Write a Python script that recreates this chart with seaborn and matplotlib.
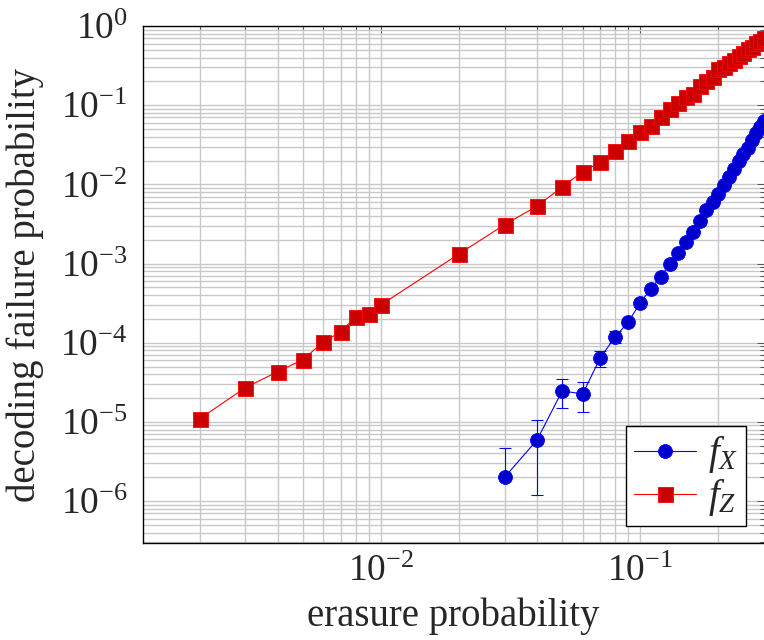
import matplotlib
matplotlib.use("Agg")
import matplotlib.pyplot as plt
import matplotlib.ticker as mticker
import numpy as np
import pandas as pd
import seaborn as sns

# erasure probabilities
p_x = [0.03, 0.04, 0.05, 0.06, 0.07, 0.08, 0.09, 0.10, 0.11, 0.12, 0.13, 0.14,
       0.15, 0.16, 0.17, 0.18, 0.19, 0.20, 0.21, 0.22, 0.23, 0.24, 0.25, 0.26,
       0.27, 0.28, 0.29, 0.30]
f_x = [2.0e-6, 5.9e-6, 2.46e-5, 2.25e-5, 6.4e-5, 1.18e-4, 1.83e-4, 3.2e-4,
       4.8e-4, 6.8e-4, 1.0e-3, 1.36e-3, 1.88e-3, 2.5e-3, 3.4e-3, 4.8e-3,
       5.9e-3, 7.6e-3, 9.8e-3, 1.24e-2, 1.56e-2, 2.0e-2, 2.4e-2, 2.9e-2,
       3.6e-2, 4.5e-2, 5.3e-2, 6.3e-2]

# confidence bounds for the sparsely sampled X failures
err_p = [0.03, 0.04, 0.05, 0.06, 0.07, 0.08]
err_lo = [2.0e-6, 1.2e-6, 1.5e-5, 1.34e-5, 4.9e-5, 1.0e-4]
err_hi = [4.7e-6, 1.06e-5, 3.5e-5, 3.2e-5, 7.9e-5, 1.4e-4]
err_mid = [2.0e-6, 5.9e-6, 2.46e-5, 2.25e-5, 6.4e-5, 1.18e-4]

p_z = [0.002, 0.003, 0.004, 0.005, 0.006, 0.007, 0.008, 0.009, 0.010,
       0.02, 0.03, 0.04, 0.05, 0.06, 0.07, 0.08, 0.09, 0.10, 0.11, 0.12,
       0.13, 0.14, 0.15, 0.16, 0.17, 0.18, 0.19, 0.20, 0.21, 0.22, 0.23,
       0.24, 0.25, 0.26, 0.27, 0.28, 0.29, 0.30]
f_z = [1.09e-5, 2.7e-5, 4.3e-5, 6.1e-5, 1.02e-4, 1.37e-4, 2.13e-4, 2.3e-4,
       3.0e-4, 1.32e-3, 3.1e-3, 5.3e-3, 9.3e-3, 1.44e-2, 1.9e-2, 2.6e-2,
       3.5e-2, 4.59e-2, 5.46e-2, 7.1e-2, 8.95e-2, 0.107, 0.127, 0.138,
       0.175, 0.202, 0.227, 0.286, 0.30, 0.34, 0.372, 0.418, 0.456, 0.51,
       0.54, 0.61, 0.65, 0.70]

x_major = [1e-2, 1e-1]
y_major = [1e-6, 1e-5, 1e-4, 1e-3, 1e-2, 1e-1, 1e0]

sns.set_theme(style="white")
plt.rcParams["font.family"] = ["Liberation Serif", "DejaVu Serif"]
plt.rcParams["mathtext.fontset"] = "custom"
plt.rcParams["mathtext.rm"] = "Liberation Serif"
plt.rcParams["mathtext.it"] = "Liberation Serif:italic"
plt.rcParams["mathtext.bf"] = "Liberation Serif:bold"

fig = plt.figure(figsize=(7.64, 6.4), dpi=100)
ax = fig.add_axes([143 / 764, 97 / 640, 621 / 764, 517 / 640])

df_x = pd.DataFrame({"p": p_x, "f": f_x})
df_z = pd.DataFrame({"p": p_z, "f": f_z})

ax.errorbar(err_p, err_mid,
            yerr=[np.array(err_mid) - np.array(err_lo),
                  np.array(err_hi) - np.array(err_mid)],
            fmt="none", ecolor="#0000ff", elinewidth=0.8, capsize=4.3,
            capthick=0.8, zorder=2)

sns.lineplot(data=df_x, x="p", y="f", ax=ax, color="#0000ff", linewidth=0.8,
             marker="o", markersize=10, markerfacecolor="#0000cc",
             markeredgecolor="#0000ff", markeredgewidth=0.6,
             label=r"$f_X$", zorder=3)
sns.lineplot(data=df_z, x="p", y="f", ax=ax, color="#ff0000", linewidth=0.8,
             marker="s", markersize=10.8, markerfacecolor="#cc0000",
             markeredgecolor="#ff0000", markeredgewidth=0.6,
             label=r"$f_Z$", zorder=3)

ax.set_xscale("log")
ax.set_yscale("log")
xlim = (0.00121, 0.3)
ylim = (2.95e-7, 1.0)
ax.set_xlim(*xlim)
ax.set_ylim(*ylim)

# only ticks that fall inside the visible range
x_minor = [m * 10.0 ** e for e in (-3, -2, -1) for m in range(2, 10)
           if xlim[0] <= m * 10.0 ** e <= xlim[1]]
y_minor = [m * 10.0 ** e for e in range(-7, 0) for m in range(2, 10)
           if ylim[0] <= m * 10.0 ** e <= ylim[1]]
ax.xaxis.set_major_locator(mticker.FixedLocator(x_major))
ax.yaxis.set_major_locator(mticker.FixedLocator(y_major))
ax.xaxis.set_minor_locator(mticker.FixedLocator(x_minor))
ax.yaxis.set_minor_locator(mticker.FixedLocator(y_minor))
ax.xaxis.set_major_formatter(mticker.LogFormatterSciNotation())
ax.yaxis.set_major_formatter(mticker.LogFormatterSciNotation())
ax.xaxis.set_minor_formatter(mticker.NullFormatter())
ax.yaxis.set_minor_formatter(mticker.NullFormatter())

ax.grid(True, which="both", color="#c8c8c8", linewidth=1.0)
ax.set_axisbelow(True)

ax.tick_params(which="both", direction="in", top=True, right=True,
               color="#404040", width=0.6)
ax.tick_params(which="major", length=5, labelsize=27)
ax.tick_params(which="minor", length=3)
ax.tick_params(axis="x", which="major", pad=8)
ax.tick_params(axis="y", which="major", pad=11)

for side in ("left", "bottom", "top"):
    ax.spines[side].set_color("black")
    ax.spines[side].set_linewidth(1.0)
ax.spines["right"].set_visible(False)

ax.set_xlabel("erasure probability", fontsize=28)
ax.set_ylabel("decoding failure probability", fontsize=28, va="center")
ax.yaxis.set_label_coords(-0.19, 0.5)
ax.xaxis.set_label_coords(0.5, -0.105)

leg = ax.legend(loc="lower right", bbox_to_anchor=(0.971, 0.033),
                borderaxespad=0, fontsize=28, frameon=True, fancybox=False,
                edgecolor="black", framealpha=1, handlelength=1.6,
                handletextpad=0.3, borderpad=0.2, labelspacing=0.05)
leg.get_frame().set_linewidth(1.0)

fig.savefig("out.png", dpi=100)
